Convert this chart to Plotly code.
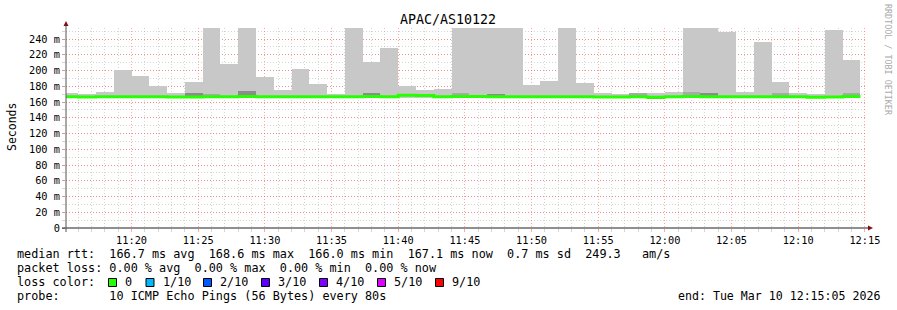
import plotly.graph_objects as go
from datetime import datetime, timedelta

# ---------------- data ----------------
title_text = "APAC/AS10122"
first_step_start = datetime(2026, 3, 10, 11, 14, 40)
step_seconds = 80
view_start = "2026-03-10 11:15:05"
view_end = "2026-03-10 12:15:05"

# smoke (min..max of the 10 pings per step), in ms
smoke_max = [171.4, 170.2, 172.7, 200.6, 193.0, 180.3, 171.4, 185.4, 262.0, 208.0,
             262.0, 191.7, 175.2, 201.9, 182.9, 170.2, 262.0, 210.8, 228.6, 180.3,
             175.2, 176.5, 262.0, 262.0, 262.0, 262.0, 181.6, 186.7, 262.0, 184.1,
             171.4, 170.2, 171.4, 171.4, 172.7, 262.0, 262.0, 248.9, 172.7, 236.2,
             185.4, 171.4, 170.2, 251.4, 213.3]
smoke_min = [166.0, 166.0, 166.1, 166.1, 166.0, 166.1, 165.9, 164.8, 166.0, 166.1,
             166.1, 166.1, 166.1, 166.1, 166.1, 166.1, 166.1, 166.2, 166.1, 164.8,
             165.2, 166.1, 166.1, 166.1, 166.1, 166.1, 166.1, 166.1, 166.1, 166.0,
             166.0, 166.0, 166.0, 164.6, 166.0, 166.1, 166.1, 166.0, 166.0, 166.0,
             166.0, 166.0, 165.0, 166.0, 166.0]
median_rtt = [166.6, 166.5, 166.6, 166.7, 166.6, 166.7, 166.5, 166.3, 166.8, 166.8,
              166.9, 166.8, 166.7, 166.8, 166.7, 166.6, 166.7, 166.9, 166.8, 168.6,
              168.2, 166.8, 166.9, 166.9, 166.8, 166.8, 166.7, 166.7, 166.8, 166.6,
              166.5, 166.5, 166.7, 166.0, 166.6, 166.9, 166.8, 166.7, 166.6, 166.7,
              166.7, 166.6, 166.1, 166.5, 167.1]
# denser inner smoke bands (None where not visible)
band_lo = [None] * 45
band_hi = [None] * 45
band_level = [0] * 45
for i, lo, hi, lv in [(7, 167.6, 171.0, 2), (8, 168.0, 170.0, 1), (10, 167.6, 174.0, 2),
                      (17, 168.9, 171.4, 2), (22, 169.0, 170.5, 1), (24, 168.0, 170.5, 2),
                      (32, 168.9, 171.4, 1), (33, 164.6, 166.0, 2), (35, 168.9, 172.7, 1),
                      (36, 167.6, 171.4, 2), (40, 168.9, 171.0, 1), (44, 168.9, 171.4, 1)]:
    band_lo[i], band_hi[i], band_level[i] = lo, hi, lv

y_tick_vals = [0, 20, 40, 60, 80, 100, 120, 140, 160, 180, 200, 220, 240]
y_tick_text = ["0"] + [f"{v} m" for v in y_tick_vals[1:]]

stats_rtt = ["166.7", "168.6", "166.0", "167.1", "0.7", "249.3"]
stats_loss = ["0.00", "0.00", "0.00", "0.00"]
loss_labels = ["0", "1/10", "2/10", "3/10", "4/10", "5/10", "9/10"]
loss_colors = ["#26ff00", "#00b8ff", "#0059ff", "#5e00ff", "#7e00ff", "#dd00ff", "#ff0000"]
probe_text = "10 ICMP Echo Pings (56 Bytes) every 80s"
end_text = "end: Tue Mar 10 12:15:05 2026"

# ---------------- layout geometry (pixels) ----------------
W, H = 897, 310
PL, PR, PT, PB = 66, 866, 28, 228
MONO = "DejaVu Sans Mono"


def px(x):
    return (x - PL) / (PR - PL)


def py(y):
    return (PB - y) / (PB - PT)


def fmt(d):
    return d.strftime("%Y-%m-%d %H:%M:%S")


n = len(smoke_max)
starts = [first_step_start + timedelta(seconds=step_seconds * k) for k in range(n)]
centers = [fmt(s + timedelta(seconds=step_seconds / 2)) for s in starts]
edges = [fmt(s) for s in starts] + [fmt(starts[-1] + timedelta(seconds=step_seconds))]

shade_map = {0: "rgba(0,0,0,0)", 1: "#a9a9a9", 2: "#8c8c8c"}

fig = go.Figure()
fig.add_trace(go.Bar(
    x=centers, y=[hi - lo for hi, lo in zip(smoke_max, smoke_min)], base=smoke_min,
    width=step_seconds * 1000, marker=dict(color="#c8c8c8", line=dict(width=0)),
    hoverinfo="skip", showlegend=False))
fig.add_trace(go.Bar(
    x=centers,
    y=[(h - l) if h is not None else 0 for h, l in zip(band_hi, band_lo)],
    base=[l if l is not None else 0 for l in band_lo],
    width=step_seconds * 1000,
    marker=dict(color=[shade_map[v] for v in band_level], line=dict(width=0)),
    hoverinfo="skip", showlegend=False))
fig.add_trace(go.Scatter(
    x=edges, y=median_rtt + [median_rtt[-1]], mode="lines",
    line=dict(color=loss_colors[0], width=3, shape="hv"),
    hoverinfo="skip", showlegend=False))

major_grid = "rgba(255,60,60,0.45)"
minor_grid = "rgba(150,150,150,0.4)"

fig.update_layout(
    width=W, height=H, autosize=False,
    margin=dict(l=PL, r=W - PR, t=PT, b=H - PB, pad=0),
    paper_bgcolor="white", plot_bgcolor="white",
    barmode="overlay", bargap=0,
    font=dict(family=MONO, size=10.3, color="black"),
    xaxis=dict(
        type="date", range=[view_start, view_end],
        tickmode="linear", tick0="2026-03-10 11:00:00", dtick=300000,
        tickformat="%H:%M", tickfont=dict(family=MONO, size=10.3, color="black"),
        showgrid=True, gridcolor=major_grid, griddash="1px,2px", gridwidth=1,
        ticks="outside", ticklen=3, tickcolor=major_grid,
        minor=dict(tick0="2026-03-10 11:00:00", dtick=60000, showgrid=True,
                   gridcolor=minor_grid, griddash="1px,2px", gridwidth=1,
                   ticks="outside", ticklen=3, tickcolor=minor_grid),
        showline=False, zeroline=False, fixedrange=True),
    yaxis=dict(
        range=[0, 254], tickmode="array", tickvals=y_tick_vals, ticktext=y_tick_text,
        tickfont=dict(family=MONO, size=10.3, color="black"),
        showgrid=True, gridcolor=major_grid, griddash="1px,2px", gridwidth=1,
        ticks="outside", ticklen=3, tickcolor=major_grid,
        minor=dict(tick0=0, dtick=10, showgrid=True, gridcolor=minor_grid,
                   griddash="1px,2px", gridwidth=1,
                   ticks="outside", ticklen=3, tickcolor=minor_grid),
        showline=False, zeroline=False, fixedrange=True),
)

shapes = []
# axis lines
shapes.append(dict(type="line", xref="paper", yref="paper", x0=px(62), x1=px(869),
                   y0=py(228), y1=py(228), line=dict(color="#202020", width=1), layer="above"))
shapes.append(dict(type="line", xref="paper", yref="paper", x0=px(66), x1=px(66),
                   y0=py(232), y1=py(25), line=dict(color="#555555", width=1), layer="above"))
# arrows
shapes.append(dict(type="path", xref="paper", yref="paper",
                   path=f"M {px(63.5)} {py(26)} L {px(68.5)} {py(26)} L {px(66)} {py(21)} Z",
                   fillcolor="#7f1010", line=dict(width=0), layer="above"))
shapes.append(dict(type="path", xref="paper", yref="paper",
                   path=f"M {px(868)} {py(225.5)} L {px(868)} {py(230.5)} L {px(873)} {py(228)} Z",
                   fillcolor="#7f1010", line=dict(width=0), layer="above"))

ann = []


def text(t, x, y, size=11.8, xanchor="left", color="black", angle=0, yanchor="middle"):
    ann.append(dict(text=t.replace(" ", "\u00a0"), x=px(x), y=py(y), xref="paper", yref="paper",
                    xanchor=xanchor, yanchor=yanchor, showarrow=False, borderpad=0,
                    textangle=angle, font=dict(family=MONO, size=size, color=color)))


text(title_text, 448, 19, size=13.3, xanchor="center")
text("Seconds", 12, 127, size=11.5, xanchor="center", angle=-90)
text("RRDTOOL / TOBI OETIKER", 888, 60, size=8.4, xanchor="center", color="#aaaaaa", angle=90)

line1 = (f"median rtt:  {stats_rtt[0]} ms avg  {stats_rtt[1]} ms max  {stats_rtt[2]} ms min  "
         f"{stats_rtt[3]} ms now  {stats_rtt[4]} ms sd  {stats_rtt[5]}   am/s")
line2 = (f"packet loss: {stats_loss[0]} % avg  {stats_loss[1]} % max  "
         f"{stats_loss[2]} % min  {stats_loss[3]} % now")
text(line1, 16, 254)
text(line2, 16, 268)
text("loss color:", 16, 282)
box_x = [108.5, 146, 203.5, 261.5, 319.5, 377.5, 435.5]
for bx, lab, col in zip(box_x, loss_labels, loss_colors):
    shapes.append(dict(type="rect", xref="paper", yref="paper",
                       x0=px(bx), x1=px(bx + 8), y0=py(286.5), y1=py(278.5),
                       fillcolor=col, line=dict(color="black", width=1), layer="above"))
    text(lab, bx + 15.5, 282)
text("probe:       " + probe_text, 16, 296)
text(end_text, 881, 296, xanchor="right", size=11.6)

fig.update_layout(shapes=shapes, annotations=ann)
fig.write_html("out.html")
